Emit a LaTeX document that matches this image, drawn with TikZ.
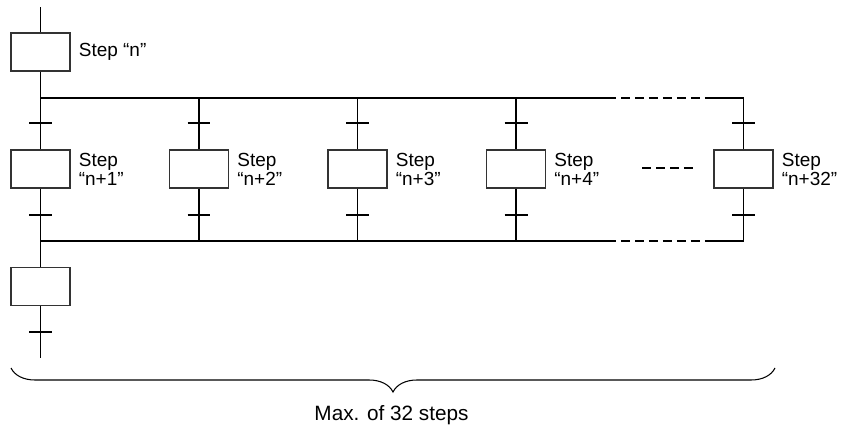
\documentclass[tikz,border=0pt]{standalone}
\usepackage{fontspec}
\setmainfont{Liberation Sans}
\usetikzlibrary{positioning,decorations.pathreplacing}
\tikzset{
  stepbox/.style={draw=black!80,line width=0.6pt,fill=white,
    minimum width=1.18cm,minimum height=0.76cm,inner sep=0pt},
  steplabel/.style={anchor=west,align=left,inner sep=0pt,
    font=\fontsize{10.8}{10.8}\selectfont},
  link/.style={line width=0.95pt},
  bus/.style={line width=1.05pt},
  gapline/.style={line width=0.6pt,dash pattern=on 0.18cm off 0.1cm},
  trans/.style={line width=1.05pt},
  bracestyle/.style={line width=0.6pt,decorate,
    decoration={brace,mirror,amplitude=0.48cm}}
}

\begin{document}
\begin{tikzpicture}[x=0.02cm,y=-0.02cm,node distance=0.16cm]
  \useasboundingbox (0,0) rectangle (842,426);
  % initial step
  \coordinate (in) at (40.5,7);
  \node[stepbox] (sn) at (40.5,52) {};
  \node[steplabel,right=of sn] (snlbl) {Step “n”};
  \coordinate (div0) at (40.5,98);
  \draw[link] (in) -- (sn.north);
  \draw[link] (sn.south) -- (div0);
  % parallel branches
  \foreach \i/\x/\n in {1/40.5/1,2/199/2,3/357.5/3,4/516/4,5/743.5/32} {
    \coordinate (div\i) at (\x,98);
    \coordinate (ta\i) at (\x,123);
    \node[stepbox] (s\i) at (\x,169) {};
    \node[steplabel,right=of s\i] (s\i lbl) {Step\\“n+\n”};
    \coordinate (tb\i) at (\x,215);
    \coordinate (con\i) at (\x,241);
    \draw[link] (div\i) -- (s\i.north);
    \draw[link] (s\i.south) -- (con\i);
    \draw[trans] ([xshift=-0.23cm]ta\i) -- ([xshift=0.23cm]ta\i);
    \draw[trans] ([xshift=-0.23cm]tb\i) -- ([xshift=0.23cm]tb\i);
  }
  % divergence / convergence buses
  \coordinate (divgapA) at (607,98);
  \coordinate (divgapB) at (705,98);
  \coordinate (congapA) at (607,241);
  \coordinate (congapB) at (705,241);
  \draw[bus] (div1) -- (divgapA);
  \draw[gapline] (divgapA) -- (divgapB);
  \draw[bus] (divgapB) -- (div5);
  \draw[bus] (con1) -- (congapA);
  \draw[gapline] (congapA) -- (congapB);
  \draw[bus] (congapB) -- (con5);
  \coordinate (dotsA) at (642,168);
  \coordinate (dotsB) at (693,168);
  \draw[gapline] (dotsA) -- (dotsB);
  % following step
  \node[stepbox] (snext) at (40.5,286.5) {};
  \coordinate (tc) at (40.5,332);
  \coordinate (out) at (40.5,358);
  \draw[link] (con1) -- (snext.north);
  \draw[link] (snext.south) -- (out);
  \draw[trans] ([xshift=-0.23cm]tc) -- ([xshift=0.23cm]tc);
  % brace
  \coordinate (bl) at (11,368);
  \coordinate (br) at (775,368);
  \draw[bracestyle] (bl) -- (br);
  \node[anchor=base,inner sep=0pt,font=\fontsize{11.8}{11.8}\selectfont]
    (maxlbl) at (391.5,420) {Max. of 32 steps};
\end{tikzpicture}
\end{document}
